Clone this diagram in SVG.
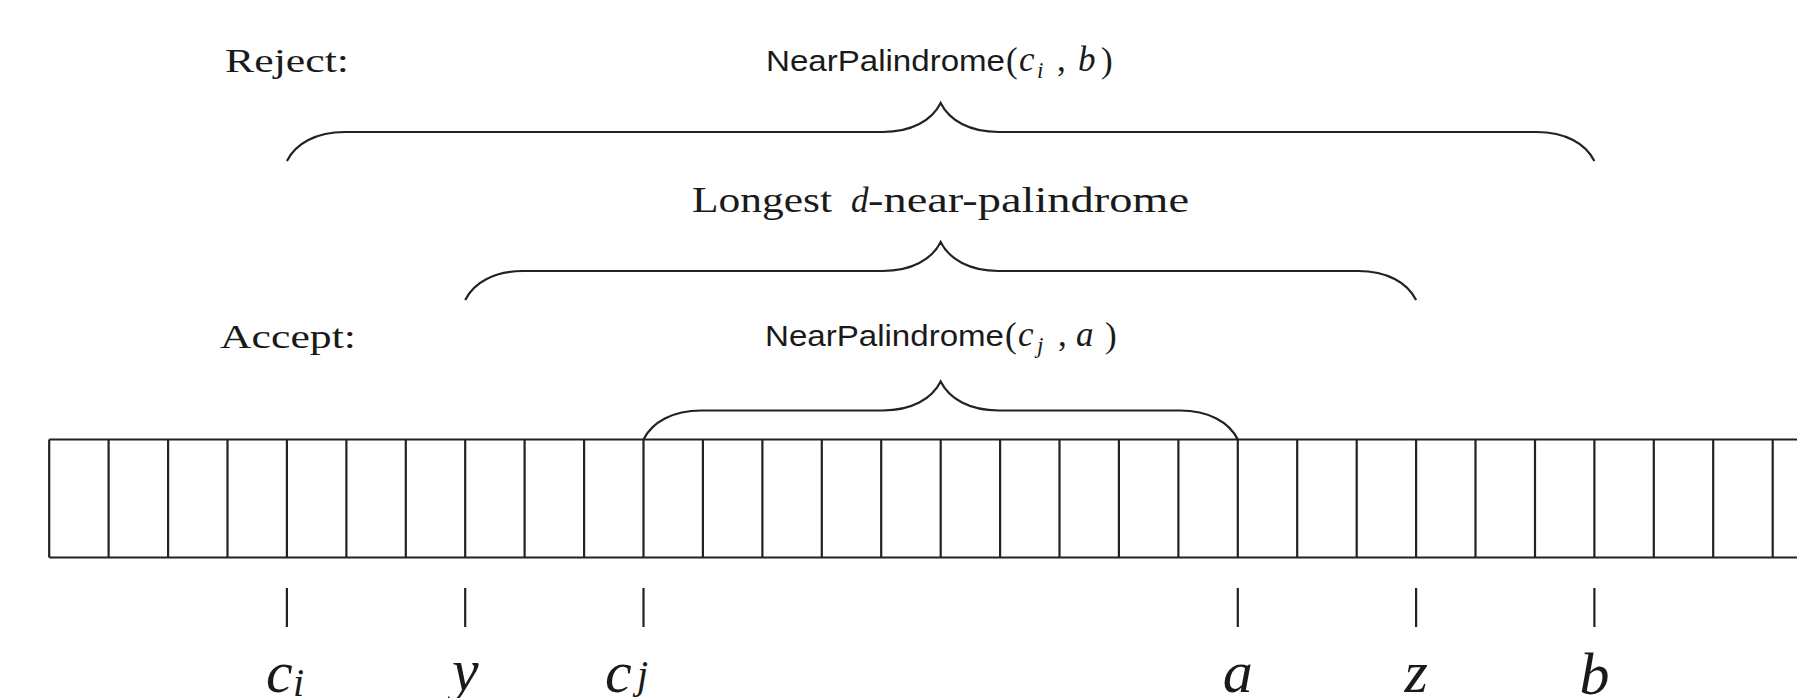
<svg xmlns="http://www.w3.org/2000/svg" width="1797" height="698" viewBox="0 0 1797 698">
  <style>
    .ln { fill: none; stroke: #222222; stroke-width: 2.2; }
    .rm { font-family: "Liberation Serif", "DejaVu Serif", serif; fill: #1a1a1a; }
    .it { font-family: "Liberation Serif", "DejaVu Serif", serif; font-style: italic; fill: #1a1a1a; }
    .sf { font-family: "Liberation Sans", "DejaVu Sans", sans-serif; fill: #1a1a1a; }
  </style>
  <rect width="1797" height="698" fill="#ffffff"/>

  <!-- string of cells, x_i = 49.2 + 59.43 i -->
  <g id="array" class="ln">
    <path d="M49.2,439.5 H1800 M49.2,557.5 H1800"/>
    <path d="M49.2,439.5 V557.5 M108.6,439.5 V557.5 M168.1,439.5 V557.5 M227.5,439.5 V557.5 M286.9,439.5 V557.5
             M346.4,439.5 V557.5 M405.8,439.5 V557.5 M465.2,439.5 V557.5 M524.6,439.5 V557.5 M584.1,439.5 V557.5
             M643.5,439.5 V557.5 M702.9,439.5 V557.5 M762.4,439.5 V557.5 M821.8,439.5 V557.5 M881.2,439.5 V557.5
             M940.7,439.5 V557.5 M1000.1,439.5 V557.5 M1059.5,439.5 V557.5 M1118.9,439.5 V557.5 M1178.4,439.5 V557.5
             M1237.8,439.5 V557.5 M1297.2,439.5 V557.5 M1356.7,439.5 V557.5 M1416.1,439.5 V557.5 M1475.5,439.5 V557.5
             M1535.0,439.5 V557.5 M1594.4,439.5 V557.5 M1653.8,439.5 V557.5 M1713.2,439.5 V557.5 M1772.7,439.5 V557.5"/>
  </g>

  <!-- braces and position ticks -->
  <g id="connectors" class="ln">
    <path id="brace-reject" d="M286.9,161 C295.6,143.6 315.9,132 344.9,132 L882.65,132 C911.65,132 931.95,120.4 940.65,103 C949.35,120.4 969.65,132 998.65,132 L1536.4,132 C1565.4,132 1585.7,143.6 1594.4,161"/>
    <path id="brace-longest" d="M465.2,300 C473.9,282.6 494.2,271 523.2,271 L882.65,271 C911.65,271 931.95,259.4 940.65,242 C949.35,259.4 969.65,271 998.65,271 L1358.1,271 C1387.1,271 1407.4,282.6 1416.1,300"/>
    <path id="brace-accept" d="M643.5,439.5 C652.2,422.1 672.5,410.5 701.5,410.5 L882.65,410.5 C911.65,410.5 931.95,398.9 940.65,381.5 C949.35,398.9 969.65,410.5 998.65,410.5 L1179.8,410.5 C1208.8,410.5 1229.1,422.1 1237.8,439.5"/>
    <path id="ticks" d="M286.9,588 V627 M465.2,588 V627 M643.5,588 V627 M1237.8,588 V627 M1416.1,588 V627 M1594.4,588 V627"/>
  </g>

  <!-- labels over the braces -->
  <g id="label-reject">
    <text class="rm" x="225" y="72" font-size="34" textLength="124" lengthAdjust="spacingAndGlyphs">Reject:</text>
    <text class="sf" x="766" y="71" font-size="29" textLength="239" lengthAdjust="spacingAndGlyphs">NearPalindrome</text>
    <text class="rm" x="1006" y="72" font-size="35">(</text>
    <text class="it" x="1019" y="71" font-size="35">c</text>
    <text class="it" x="1037" y="78" font-size="23">i</text>
    <text class="rm" x="1057" y="71" font-size="35">,</text>
    <text class="it" x="1078" y="71" font-size="35">b</text>
    <text class="rm" x="1101" y="72" font-size="35">)</text>
  </g>

  <g id="label-longest">
    <text class="rm" x="692" y="212" font-size="35" textLength="140" lengthAdjust="spacingAndGlyphs">Longest</text>
    <text class="it" x="851" y="212" font-size="35">d</text>
    <text class="rm" x="868" y="212" font-size="35" textLength="321" lengthAdjust="spacingAndGlyphs">-near-palindrome</text>
  </g>

  <g id="label-accept">
    <text class="rm" x="220" y="348" font-size="34" textLength="136" lengthAdjust="spacingAndGlyphs">Accept:</text>
    <text class="sf" x="765" y="346" font-size="29" textLength="239" lengthAdjust="spacingAndGlyphs">NearPalindrome</text>
    <text class="rm" x="1005" y="347" font-size="35">(</text>
    <text class="it" x="1018" y="346" font-size="35">c</text>
    <text class="it" x="1037" y="353" font-size="23">j</text>
    <text class="rm" x="1058" y="346" font-size="35">,</text>
    <text class="it" x="1076" y="346" font-size="35">a</text>
    <text class="rm" x="1105" y="347" font-size="35">)</text>
  </g>

  <!-- position markers under the string -->
  <g id="marker-ci">
    <text class="it" x="266" y="692" font-size="60">c</text>
    <text class="it" x="293" y="696" font-size="40">i</text>
  </g>
  <g id="marker-y"><text class="it" x="465.2" y="690" font-size="60" text-anchor="middle">y</text></g>
  <g id="marker-cj">
    <text class="it" x="605" y="692" font-size="60">c</text>
    <text class="it" x="637" y="688" font-size="40">j</text>
  </g>
  <g id="marker-a"><text class="it" x="1237.8" y="692" font-size="60" text-anchor="middle">a</text></g>
  <g id="marker-z"><text class="it" x="1416.1" y="692" font-size="60" text-anchor="middle">z</text></g>
  <g id="marker-b"><text class="it" x="1594.4" y="694" font-size="60" text-anchor="middle">b</text></g>
</svg>
